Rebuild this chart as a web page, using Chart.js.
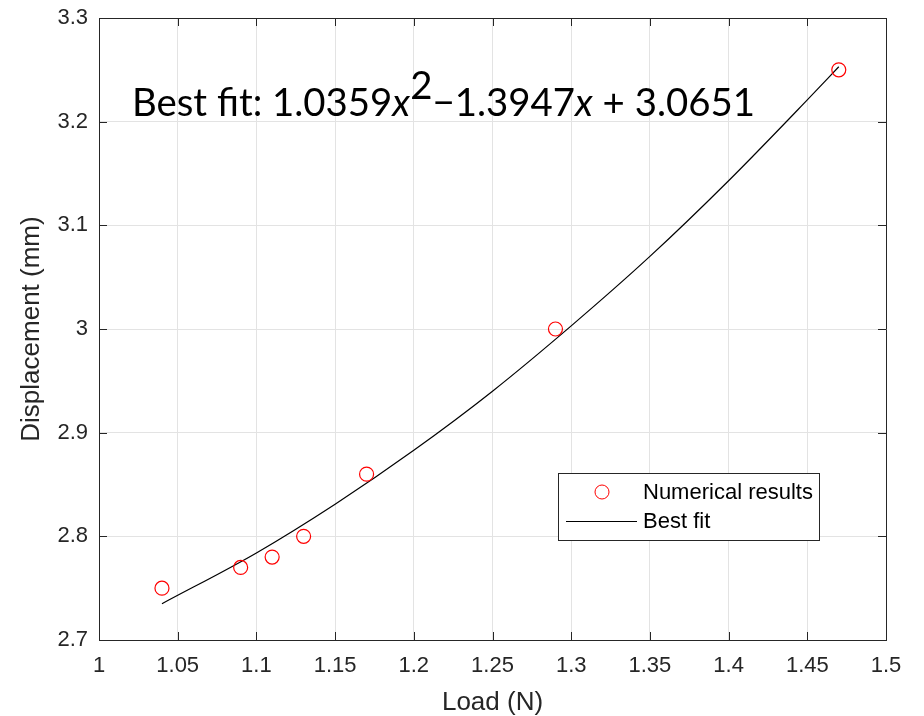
<!DOCTYPE html>
<html>
<head>
<meta charset="utf-8">
<script src="https://cdn.jsdelivr.net/npm/chart.js@4.4.0/dist/chart.umd.min.js"></script>
<style>
  body { margin: 0; background: #fff; }
  canvas { display: block; }
</style>
</head>
<body>
<canvas id="myChart" width="924" height="716"></canvas>
<script>
// measured points
const loadN = [1.04, 1.09, 1.11, 1.13, 1.17, 1.29, 1.47];
const displacement = [2.75, 2.77, 2.78, 2.80, 2.86, 3.00, 3.25];

// fitted curve
const fitLoad = [1.04, 1.10, 1.15, 1.20, 1.25, 1.30, 1.35, 1.40, 1.45, 1.47];
const fitDisp = [2.735, 2.784, 2.831, 2.883, 2.940, 3.003, 3.070, 3.143, 3.221, 3.253];

const xTicks = [1, 1.05, 1.1, 1.15, 1.2, 1.25, 1.3, 1.35, 1.4, 1.45, 1.5];
const xTickLabels = ['1', '1.05', '1.1', '1.15', '1.2', '1.25', '1.3', '1.35', '1.4', '1.45', '1.5'];
const yTicks = [2.7, 2.8, 2.9, 3, 3.1, 3.2, 3.3];
const yTickLabels = ['2.7', '2.8', '2.9', '3', '3.1', '3.2', '3.3'];

const seriesNames = ['Numerical results', 'Best fit'];
const xTitle = 'Load (N)';
const yTitle = 'Displacement (mm)';

// equation text pieces: [text, style]
const fitText = [
    ['Best fit: 1.0359', 'n'],
    ['x', 'i'],
    ['2', 's'],
    ['\u22121.3947', 'n'],
    ['x', 'i'],
    [' + 3.0651', 'n']
];

const axisColor = '#262626';
const gridColor = '#e3e3e3';
const sansFont = '"Liberation Sans", Arial, Helvetica, sans-serif';

const toPoints = (xs, ys) => xs.map((x, i) => ({ x: x, y: ys[i] }));

// box on all four sides + inward ticks (matlab look)
const boxPlugin = {
    id: 'box',
    afterDraw(chart) {
        const ctx = chart.ctx;
        const a = chart.chartArea;
        const xs = chart.scales.x, ys = chart.scales.y;
        const tl = 8;
        ctx.save();
        ctx.strokeStyle = axisColor;
        ctx.lineWidth = 1;
        ctx.beginPath();
        ctx.rect(a.left + 0.5, a.top + 0.5, a.right - a.left, a.bottom - a.top);
        xTicks.forEach(v => {
            const px = Math.round(xs.getPixelForValue(v)) + 0.5;
            ctx.moveTo(px, a.bottom);
            ctx.lineTo(px, a.bottom - tl);
            ctx.moveTo(px, a.top);
            ctx.lineTo(px, a.top + tl);
        });
        yTicks.forEach(v => {
            const py = Math.round(ys.getPixelForValue(v)) + 0.5;
            ctx.moveTo(a.left, py);
            ctx.lineTo(a.left + tl, py);
            ctx.moveTo(a.right, py);
            ctx.lineTo(a.right - tl, py);
        });
        ctx.stroke();
        ctx.restore();
    }
};

const legendPlugin = {
    id: 'boxLegend',
    afterDatasetsDraw(chart) {
        const ctx = chart.ctx;
        const x0 = 558, y0 = 473, w = 261, h = 67;
        ctx.save();
        ctx.fillStyle = '#fff';
        ctx.fillRect(x0, y0, w, h);
        ctx.strokeStyle = axisColor;
        ctx.lineWidth = 1;
        ctx.strokeRect(x0 + 0.5, y0 + 0.5, w, h);

        ctx.strokeStyle = '#ff0000';
        ctx.beginPath();
        ctx.arc(602, 492, 7, 0, Math.PI * 2);
        ctx.stroke();

        ctx.strokeStyle = '#000';
        ctx.beginPath();
        ctx.moveTo(566, 521.5);
        ctx.lineTo(637, 521.5);
        ctx.stroke();

        ctx.fillStyle = '#000';
        ctx.font = '22px ' + sansFont;
        ctx.textBaseline = 'middle';
        ctx.fillText(seriesNames[0], 643, 493);
        ctx.fillText(seriesNames[1], 643, 522);
        ctx.restore();
    }
};

const equationPlugin = {
    id: 'equation',
    afterDatasetsDraw(chart) {
        const ctx = chart.ctx;
        const face = 'Lato, "DejaVu Sans", sans-serif';
        const fontFor = (st, size) => (st === 'i' ? 'italic ' : '') + size + 'px ' + face;
        const measure = size => fitText.reduce((s, p) => {
            ctx.font = fontFor(p[1], size);
            return s + ctx.measureText(p[0]).width;
        }, 0);
        ctx.save();
        let size = 37;
        size = size * 623 / measure(size);
        let x = 132;
        const base = 116;
        ctx.fillStyle = '#000';
        ctx.textBaseline = 'alphabetic';
        fitText.forEach(p => {
            ctx.font = fontFor(p[1], size);
            const dy = p[1] === 's' ? -size * 0.45 : 0;
            ctx.fillText(p[0], x, base + dy);
            x += ctx.measureText(p[0]).width;
        });
        ctx.restore();
    }
};

const data = {
    datasets: [{
        label: seriesNames[0],
        data: toPoints(loadN, displacement),
        showLine: false,
        pointStyle: 'circle',
        pointRadius: 7,
        pointHoverRadius: 7,
        pointBorderWidth: 1.2,
        borderColor: '#ff0000',
        backgroundColor: 'rgba(0,0,0,0)'
    }, {
        label: seriesNames[1],
        data: toPoints(fitLoad, fitDisp),
        showLine: true,
        pointRadius: 0,
        borderColor: '#000',
        borderWidth: 1.2,
        cubicInterpolationMode: 'monotone'
    }]
};

const config = {
    type: 'scatter',
    data: data,
    options: {
        responsive: false,
        animation: false,
        layout: { padding: { top: 18, right: 38, left: 0, bottom: 0 } },
        plugins: {
            legend: { display: false },
            tooltip: { enabled: false }
        },
        scales: {
            x: {
                type: 'linear',
                min: 1,
                max: 1.5,
                afterFit: s => {
                    s.height = 76;
                    s.paddingLeft = 0;
                    s.paddingRight = 0;
                },
                afterBuildTicks: s => { s.ticks = xTicks.map(v => ({ value: v })); },
                grid: { color: gridColor, drawTicks: false },
                border: { color: axisColor },
                ticks: {
                    padding: 13,
                    color: axisColor,
                    font: { family: sansFont, size: 22 },
                    maxRotation: 0,
                    callback: (v, i) => xTickLabels[i]
                },
                title: {
                    display: true,
                    text: xTitle,
                    color: axisColor,
                    font: { family: sansFont, size: 26, lineHeight: 1 },
                    padding: { top: 0, bottom: 0 }
                }
            },
            y: {
                type: 'linear',
                min: 2.7,
                max: 3.3,
                afterFit: s => {
                    s.width = 99;
                    s.paddingTop = 0;
                    s.paddingBottom = 0;
                },
                afterBuildTicks: s => { s.ticks = yTicks.map(v => ({ value: v })); },
                grid: { color: gridColor, drawTicks: false },
                border: { color: axisColor },
                ticks: {
                    padding: 11,
                    color: axisColor,
                    font: { family: sansFont, size: 22 },
                    callback: (v, i) => yTickLabels[i]
                },
                title: {
                    display: true,
                    text: yTitle,
                    color: axisColor,
                    font: { family: sansFont, size: 26, lineHeight: 1 },
                    padding: { top: 19, bottom: 0 }
                }
            }
        }
    },
    plugins: [boxPlugin, legendPlugin, equationPlugin]
};

var myChart = new Chart(document.getElementById('myChart'), config);
</script>
</body>
</html>
